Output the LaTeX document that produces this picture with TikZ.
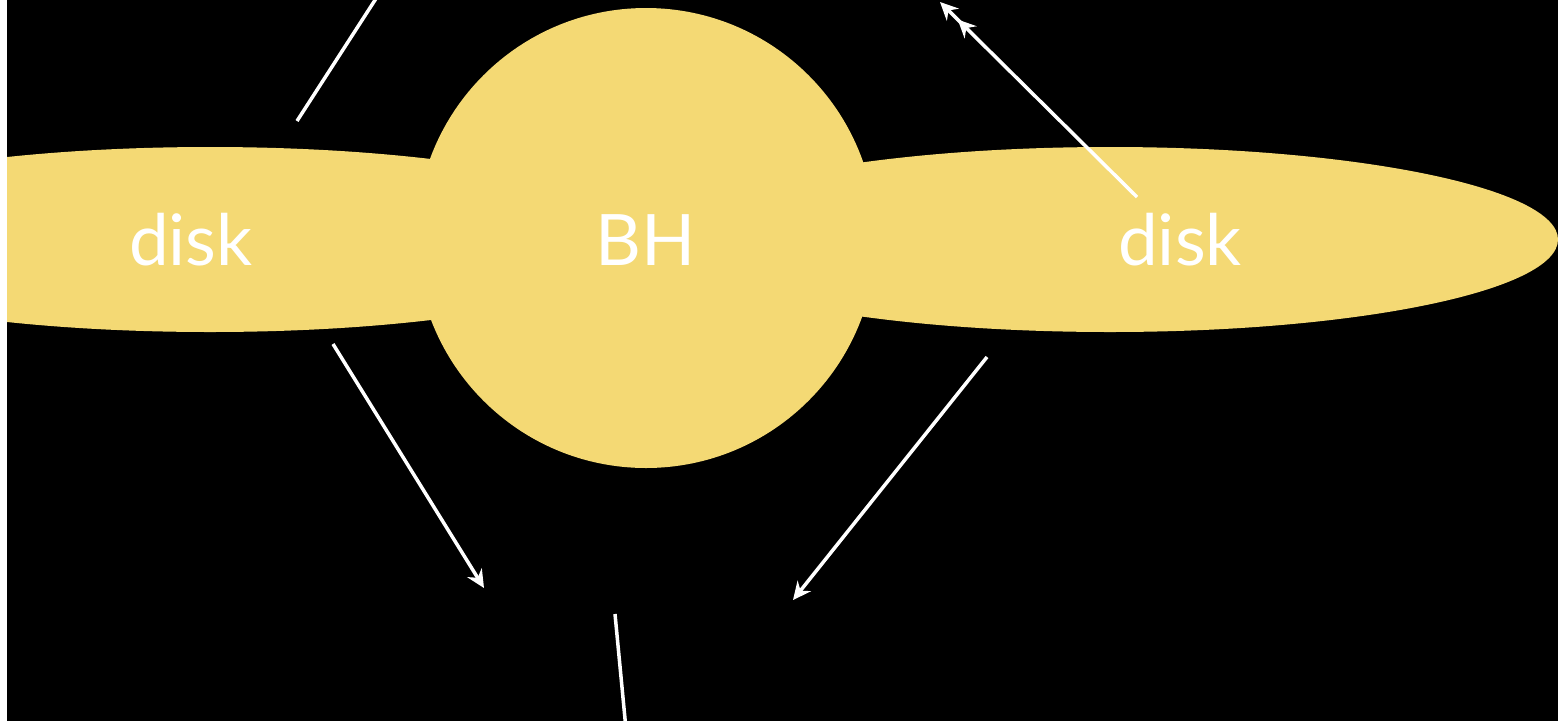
\documentclass[tikz,border=0pt]{standalone}
\usepackage{fontspec}
\setmainfont{Lato}
\usetikzlibrary{shapes.geometric,arrows.meta}
\definecolor{diskyellow}{RGB}{244,217,116}
\tikzset{
  blob/.style={fill=diskyellow,draw=none,inner sep=0pt},
  lbl/.style={text=white,font=\fontsize{71}{71}\selectfont,inner sep=0pt,anchor=base},
  ray/.style={draw=white,line width=3.5pt},
  tipA/.tip={Stealth[length=18pt,width=17pt,inset=6pt]},
  flow/.style={ray,-{tipA}},
  dflow/.style={ray,-{tipA[sep=7pt]tipA}}
}
\begin{document}
\begin{tikzpicture}[x=1pt,y=-1pt]
\useasboundingbox (0,0) rectangle (1558,721);
\fill[black] (0,0) rectangle (1558,721);
\fill[white] (0,0) rectangle (7,721);
\begin{scope}
\clip (7,0) rectangle (1558,721);
\node[blob,ellipse,minimum width=896pt,minimum height=185pt] (ldisk) at (210,239.5) {};
\node[blob,ellipse,minimum width=896pt,minimum height=185pt] (rdisk) at (1110,239.5) {};
\node[blob,circle,minimum size=460pt] (bh) at (646,238) {};
\node[lbl] (ldisklbl) at (191,265) {disk};
\node[lbl] (rdisklbl) at (1180,265) {disk};
\node[lbl] (bhlbl) at (646,265) {BH};
\coordinate (a1s) at (297,121);
\coordinate (a1e) at (377,-3);
\coordinate (a2s) at (1137,197);
\coordinate (a2e) at (940,2);
\coordinate (a3s) at (333,344);
\coordinate (a3e) at (484,588);
\coordinate (a4s) at (987,357);
\coordinate (a4e) at (793,600);
\coordinate (a5s) at (615,614);
\coordinate (a5e) at (625.5,724);
\draw[ray] (a1s) -- (a1e);
\draw[dflow] (a2s) -- (a2e);
\draw[flow] (a3s) -- (a3e);
\draw[flow] (a4s) -- (a4e);
\draw[ray] (a5s) -- (a5e);
\end{scope}
\end{tikzpicture}
\end{document}
